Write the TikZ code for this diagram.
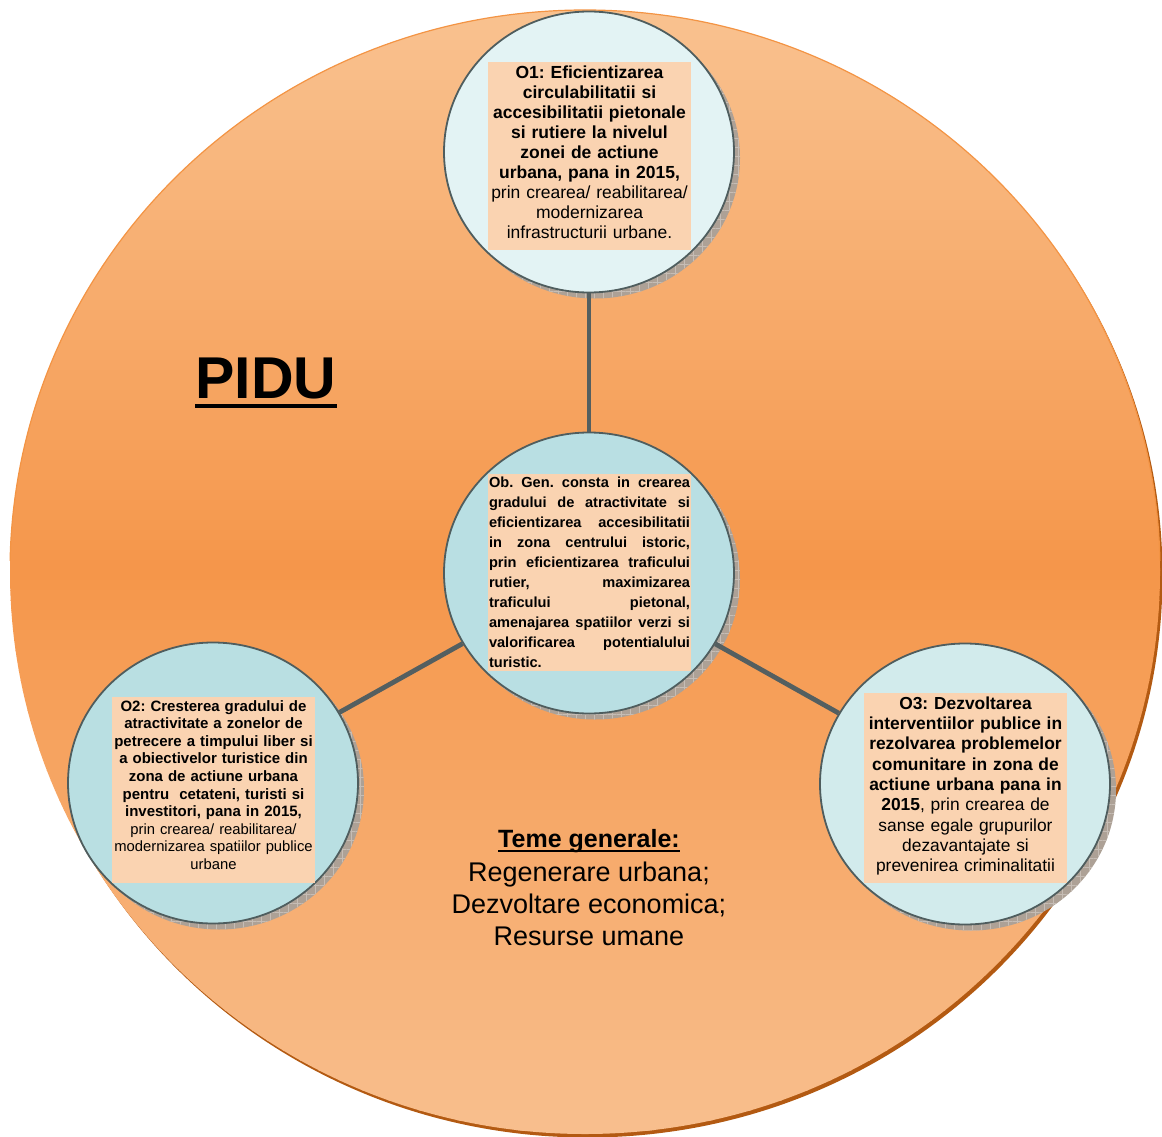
\documentclass[tikz,border=0pt]{standalone}
\usepackage{fontspec}
\setmainfont{Liberation Sans}
\frenchspacing
\usetikzlibrary{patterns.meta,calc,shapes.geometric}
\definecolor{bgtop}{HTML}{F9C290}
\definecolor{bgmid}{HTML}{F5964A}
\definecolor{bgbot}{HTML}{F8BF8E}
\definecolor{bgedge}{HTML}{F39444}
\definecolor{bgshadow}{HTML}{B35A12}
\definecolor{ringcol}{HTML}{4F5D5E}
\definecolor{oonefill}{HTML}{E3F3F4}
\definecolor{cenfill}{HTML}{B9DFE3}
\definecolor{otwofill}{HTML}{B9DFE2}
\definecolor{othreefill}{HTML}{D2EBEC}
\definecolor{boxfill}{HTML}{FAD3B1}
\definecolor{conncol}{HTML}{545F60}
\definecolor{shadefill}{HTML}{ADA196}
\definecolor{shadeline}{HTML}{C6BDB5}
\tikzset{
  objcircle/.style={ellipse, draw=ringcol, line width=1.8pt, minimum width=290pt, minimum height=281pt, inner sep=0pt},
  objshadow/.style={fill=shadefill},
  objhatch/.style={pattern={Hatch[angle=0,distance=9pt,line width=0.4pt]}, pattern color=shadeline},
  peachbox/.style={fill=boxfill, inner sep=0pt, minimum width=203pt},
  objtext/.style={inner sep=0pt, text width=215pt, align=center},
  conn/.style={draw=conncol, line width=4.8pt}
}
\begin{document}
\begin{tikzpicture}[x=1pt,y=-1pt]
\useasboundingbox (0,0) rectangle (1162,1137);
% big background ellipse with vertical gradient (light - dark - light)
\fill[bgshadow] (587.5,575.5) ellipse [x radius=575, y radius=562];
\begin{scope}
\clip (585,572) ellipse [x radius=575, y radius=562];
\foreach \i in {0,...,113}{
  \pgfmathsetmacro{\yy}{10+\i*10}
  \pgfmathsetmacro{\tt}{min(100,abs(\yy+5-572)/562*100)}
  \ifdim\yy pt<572pt
    \colorlet{bandcol}{bgtop!\tt!bgmid}
  \else
    \colorlet{bandcol}{bgbot!\tt!bgmid}
  \fi
  \fill[bandcol] (0,\yy) rectangle (1162,\yy+10.6);
}
\end{scope}
\begin{scope}
\clip (0,0) rectangle (1162,560);
\draw[bgedge, line width=1.2pt] (585,572) ellipse [x radius=575, y radius=562];
\end{scope}
% circle centres
\coordinate (pO1) at (589,152);
\coordinate (pC) at (589,573);
\coordinate (pO2) at (213,783);
\coordinate (pO3) at (965,784);
% shadows
\foreach \p in {pO1,pC,pO2,pO3}{
  \fill[objshadow] ($(\p)+(6,6)$) ellipse [x radius=145, y radius=140.5];
  \fill[objhatch] ($(\p)+(6,6)$) ellipse [x radius=145, y radius=140.5];
}
% circles
\node[objcircle, fill=oonefill] (O1) at (pO1) {};
\node[objcircle, fill=cenfill] (C) at (pC) {};
\node[objcircle, fill=otwofill] (O2) at (pO2) {};
\node[objcircle, fill=othreefill] (O3) at (pO3) {};
% connectors
\draw[conn] (C) -- (O1);
\draw[conn] (C) -- (O2);
\draw[conn] (C) -- (O3);
% peach boxes
\node[peachbox, minimum height=188pt] (B1) at (589.5,156) {};
\node[peachbox, minimum height=197pt] (BC) at (589.5,572.5) {};
\node[peachbox, minimum height=186pt] (B2) at (213.5,790) {};
\node[peachbox, minimum height=190pt] (B3) at (965.5,788) {};
% texts
\node[objtext, font={\fontsize{17.5}{20}\selectfont}] (T1) at (589.5,152.5)
 {\textbf{O1: Eficientizarea\\ circulabilitatii si\\ accesibilitatii pietonale\\ si rutiere la nivelul\\ zonei de actiune\\ urbana, pana in 2015,}\\ prin crearea/ reabilitarea/\\ modernizarea\\ infrastructurii urbane.};
\node[inner xsep=1pt, inner ysep=0pt, text width=201pt, align=justify,
      font={\fontsize{14.6}{20}\selectfont\bfseries}] (TC) at (589.5,572.5)
 {Ob. Gen. consta in crearea\linebreak gradului de atractivitate si\linebreak eficientizarea accesibilitatii\linebreak in zona centrului istoric,\linebreak prin eficientizarea traficului\linebreak rutier, maximizarea\linebreak traficului pietonal,\linebreak amenajarea spatiilor verzi si\linebreak valorificarea potentialului\linebreak turistic.};
\node[objtext, font={\fontsize{15}{17.6}\selectfont}] (T2) at (213.5,785)
 {\textbf{O2: Cresterea gradului de\\ atractivitate a zonelor de\\ petrecere a timpului liber si\\ a obiectivelor turistice din\\ zona de actiune urbana\\ pentru\ \ cetateni, turisti si\\ investitori, pana in 2015,}\\ {\fontsize{14.8}{17.6}\selectfont prin crearea/ reabilitarea/\\ modernizarea spatiilor publice\\ urbane}};
\node[objtext, font={\fontsize{17.4}{20.3}\selectfont}] (T3) at (965.5,786)
 {\textbf{O3: Dezvoltarea\\ interventiilor publice in\\ rezolvarea problemelor\\ comunitare in zona de\\ actiune urbana pana in\\ 2015}, prin crearea de\\ sanse egale grupurilor\\ dezavantajate si\\ prevenirea criminalitatii};
% PIDU title
\node[inner sep=0pt, anchor=base, font={\fontsize{59}{66}\selectfont\bfseries}] (pidu) at (266,398) {PIDU};
\draw[line width=4pt] ([yshift=-8pt]pidu.base west) -- ([yshift=-8pt]pidu.base east);
% Teme generale
\node[inner sep=0pt, anchor=base, font={\fontsize{25}{32}\selectfont\bfseries}] (teme) at (589,847) {Teme generale:};
\draw[line width=2.4pt] ([yshift=-4pt]teme.base west) -- ([yshift=-4pt]teme.base east);
\node[inner sep=0pt, anchor=north, align=center, font={\fontsize{27}{32}\selectfont}] (temelist) at (589,862)
 {Regenerare urbana;\\ Dezvoltare economica;\\ Resurse umane};
\end{tikzpicture}
\end{document}
